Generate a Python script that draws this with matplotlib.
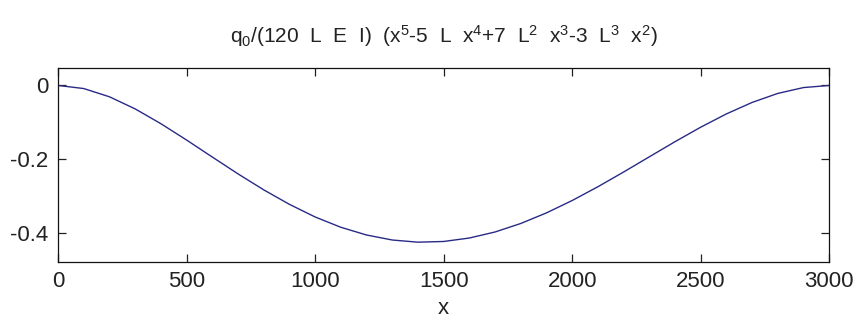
# plot.py
# beam deflection curve, redrawn after a matlab ezplot figure

import numpy as np
import matplotlib
matplotlib.use("Agg")
import matplotlib.pyplot as plt

plt.rcParams['font.family'] = ['Liberation Sans', 'DejaVu Sans']
plt.rcParams['mathtext.fontset'] = 'custom'
plt.rcParams['mathtext.rm'] = 'Liberation Sans'
plt.rcParams['mathtext.it'] = 'Liberation Sans'

# values
x_vals = [0, 100, 200, 300, 400, 500, 600, 700, 800, 900, 1000,
          1100, 1200, 1300, 1400, 1500, 1600, 1700, 1800, 1900, 2000,
          2100, 2200, 2300, 2400, 2500, 2600, 2700, 2800, 2900, 3000]
y_vals = [0.0, -0.0084, -0.0308, -0.0637, -0.1039, -0.1483, -0.1945,
          -0.2402, -0.2836, -0.3230, -0.3573, -0.3853, -0.4063, -0.4199,
          -0.4258, -0.4239, -0.4145, -0.3981, -0.3750, -0.3462, -0.3126,
          -0.2752, -0.2352, -0.1939, -0.1528, -0.1134, -0.0773, -0.0461,
          -0.0216, -0.0057, 0.0]
x_ticks = [0, 500, 1000, 1500, 2000, 2500, 3000]
y_ticks = [0, -0.2, -0.4]
y_tick_labels = ['0', '-0.2', '-0.4']
# matlab spaces its text wider, hence the double spaces
title = (r'q$_0$/(120  L  E  I)  (x$^5$-5  L  x$^4$+7  L$^2$  x$^3$'
         r'-3  L$^3$  x$^2$)')

fig = plt.figure(figsize=(8.54, 3.2), dpi=100)
ax = fig.add_axes([0.068, 0.182, 0.903, 0.605])

ax.plot(x_vals, y_vals, color='#2a2a86', linewidth=1.0)

ax.set_xlim(0, 3000)
ax.set_ylim(-0.479, 0.047)
ax.set_xticks(x_ticks)
ax.set_yticks(y_ticks)
ax.set_yticklabels(y_tick_labels)

# matlab style: ticks inside, on all four sides
ax.tick_params(direction='in', length=6, width=0.9, labelsize=16,
               top=True, right=True, pad=7, colors='#222222')
for s in ax.spines.values():
    s.set_linewidth(0.9)
    s.set_color('#111111')

ax.set_title(title, fontsize=15, pad=18, color='#222222')
ax.set_xlabel('x', fontsize=16, labelpad=4, color='#222222')

fig.savefig('out.png', dpi=100)
